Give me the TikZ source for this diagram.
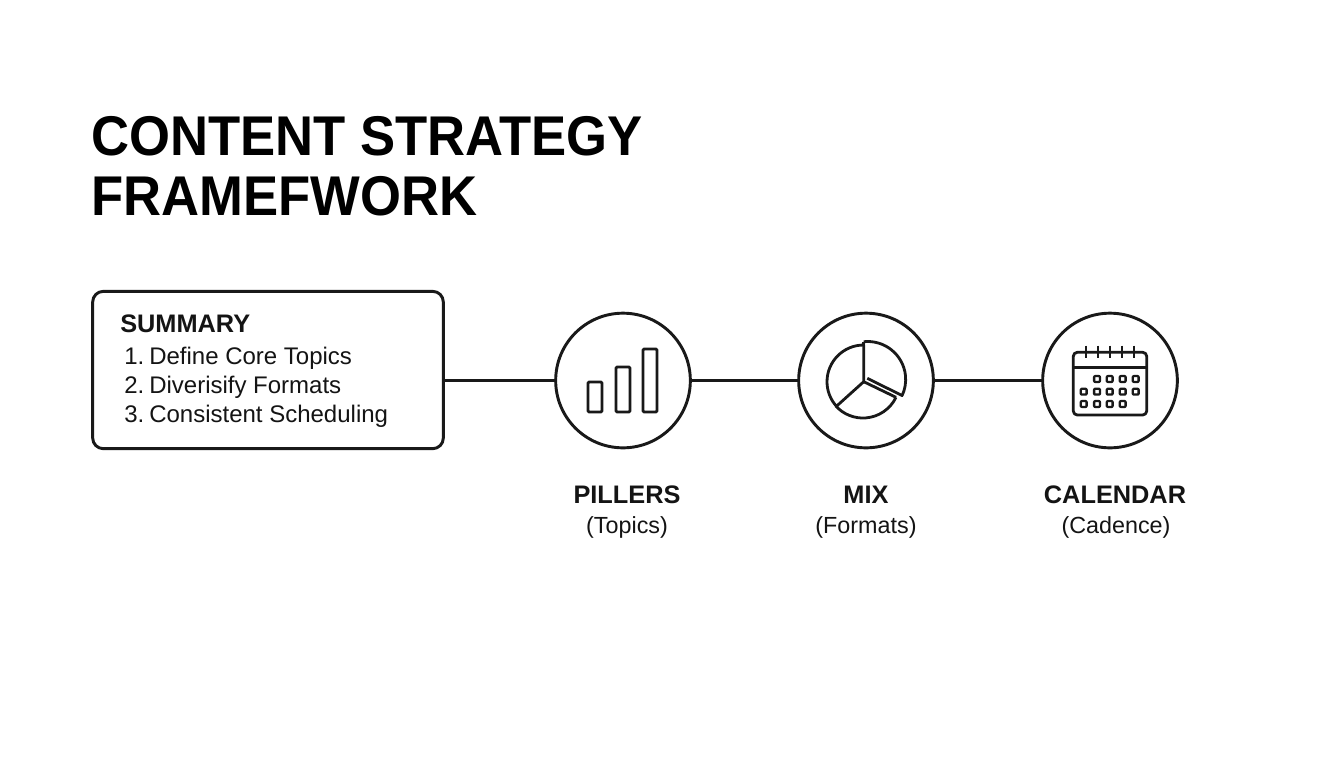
\documentclass[tikz,border=0pt]{standalone}
\usepackage{fontspec}
\setmainfont{Liberation Sans}
\newfontface\titlefont[FakeStretch=.94]{Liberation Sans Bold}
\usetikzlibrary{arrows,shapes,backgrounds}

\begin{document}
\begin{tikzpicture}[x=.75pt, y=-.75pt, line join=round]
	\tikzstyle{every node} = [rectangle, inner sep=0pt, text=black!92]
	\tikzstyle{conn}      = [line width=2.2pt, black!90]
	\tikzstyle{icon}      = [line width=2.1pt, black!90]
	\tikzstyle{dayicon}   = [line width=1.7pt, black!90, rounded corners=.6pt]
	\tikzstyle{boxnode}   = [draw=black!90, line width=2.2pt, rounded corners=8pt, minimum width=263pt, minimum height=118pt]
	\tikzstyle{ringnode}  = [draw=black!90, line width=2.2pt, circle, minimum size=101pt]
	\tikzstyle{titletext} = [anchor=base west, text=black, font=\fontsize{42}{42}\titlefont]
	\tikzstyle{headtext}  = [anchor=base, font=\fontsize{19}{19}\selectfont\bfseries]
	\tikzstyle{subtext}   = [anchor=base, font=\fontsize{17.5}{17.5}\selectfont]
	\tikzstyle{listtext}  = [anchor=base west, font=\fontsize{18}{18}\selectfont]
	\useasboundingbox (0,0) rectangle (1344,768);
	\fill [white] (0,0) rectangle (1344,768);
	\node [titletext] (title1) at (91,155) {CONTENT STRATEGY};
	\node [titletext] (title2) at (91,215) {FRAMEFWORK};
	% summary box
	\node [boxnode]   (summary) at (268,370) {};
	\node [headtext, anchor=base west] (sumhead) at (120,332) {SUMMARY};
	\node [listtext]  (item1n) at (124,364) {1.};
	\node [listtext]  (item1)  at (149,364) {Define Core Topics};
	\node [listtext]  (item2n) at (124,393) {2.};
	\node [listtext]  (item2)  at (149,393) {Diverisify Formats};
	\node [listtext]  (item3n) at (124,422) {3.};
	\node [listtext]  (item3)  at (149,422) {Consistent Scheduling};
	% circles
	\node [ringnode]  (pillers)  at (623,380.5) {};
	\node [ringnode]  (mix)      at (866,380.5) {};
	\node [ringnode]  (calendar) at (1110,380.5) {};
	\draw [conn] (pillers -| summary.east) -- (pillers);
	\draw [conn] (pillers) -- (mix);
	\draw [conn] (mix) -- (calendar);
	\node [headtext]  (pillerslab)  at (627,503) {PILLERS};
	\node [subtext]   (pillerssub)  at (627,533) {(Topics)};
	\node [headtext]  (mixlab)      at (866,503) {MIX};
	\node [subtext]   (mixsub)      at (866,533) {(Formats)};
	\node [headtext]  (calendarlab) at (1115,503) {CALENDAR};
	\node [subtext]   (calendarsub) at (1116,533) {(Cadence)};
	% bars
	\draw [icon, rounded corners=.8pt] (588,382) rectangle (602,412);
	\draw [icon, rounded corners=.8pt] (616,367) rectangle (630,412);
	\draw [icon, rounded corners=.8pt] (643,349) rectangle (657,412);
	% pie
	\draw [icon] (863.7,345) arc [start angle=-90, end angle=-222, radius=36.7] -- (863.7,381.7) -- cycle;
	\draw [icon] (896,397.3) arc [start angle=25.8, end angle=138, radius=36.7];
	\draw [icon] (863.7,381.7) -- (896,397.3);
	\draw [icon] (863.7,341.7) arc [start angle=-96, end angle=25, radius=38] -- (867.3,378.3);
	\draw [icon] (863.7,341.7) -- (863.7,345);
	% calendar
	\draw [icon, rounded corners=3pt] (1073.3,352.3) rectangle (1146.7,415);
	\draw [icon] (1073.3,367.3) -- (1146.7,367.3);
	\foreach \x in {1085.7,1097.7,1110,1122.3,1134}
		\draw [icon, line width=1.6pt] (\x,345.7) -- (\x,357.7);
	\foreach \x in {1097,1109.7,1122.7,1135.7}
		\draw [dayicon] (\x-2.9,379-2.9) rectangle (\x+2.9,379+2.9);
	\foreach \x in {1083.7,1097,1109.7,1122.7,1135.7}
		\draw [dayicon] (\x-2.9,391.7-2.9) rectangle (\x+2.9,391.7+2.9);
	\foreach \x in {1083.7,1097,1109.7,1122.7}
		\draw [dayicon] (\x-2.9,404-2.9) rectangle (\x+2.9,404+2.9);
\end{tikzpicture}
\end{document}
